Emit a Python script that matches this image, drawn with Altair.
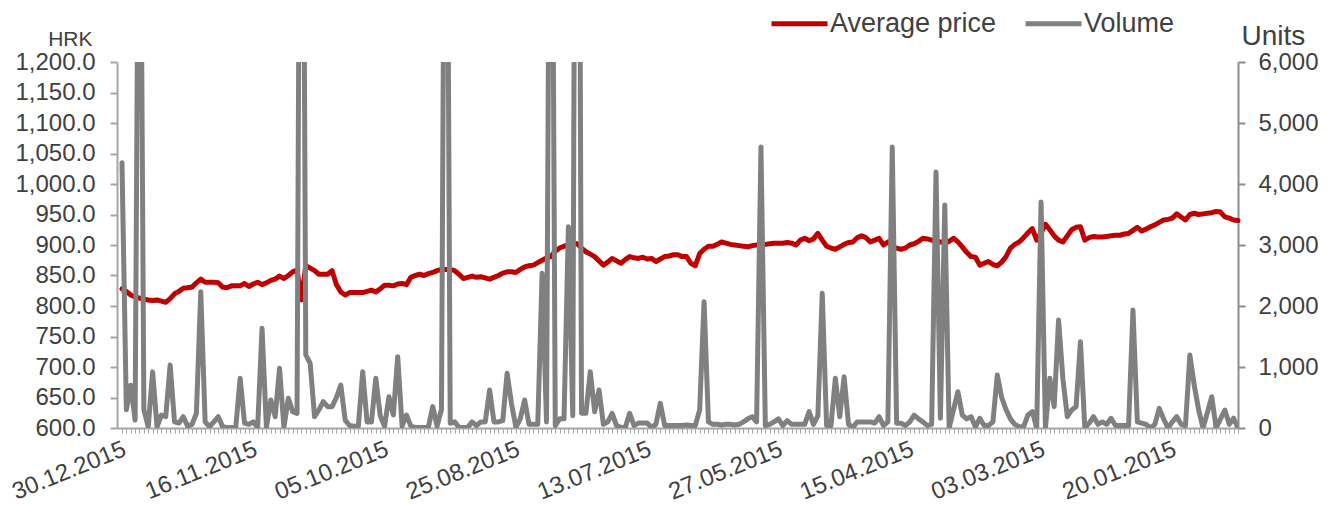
import altair as alt
import pandas as pd

tick_labels = ["30.12.2015", "16.11.2015", "05.10.2015", "25.08.2015", "13.07.2015",
               "27.05.2015", "15.04.2015", "03.03.2015", "20.01.2015"]

price = [
    828, 824, 818, 815, 813, 811, 810, 809, 810, 808,
    806, 812, 820, 824, 829, 830, 831, 838, 844, 839,
    839, 839, 838, 831, 830, 833, 833, 833, 837, 832,
    836, 839, 835, 838, 842, 844, 849, 845, 850, 856,
    859, 810, 866, 862, 858, 852, 852, 852, 858, 835,
    823, 818, 822, 822, 822, 822, 824, 826, 823, 828,
    834, 834, 833, 836, 837, 835, 847, 850, 852, 850,
    853, 855, 858, 860, 860, 860, 858, 852, 845, 847,
    849, 847, 848, 846, 844, 847, 850, 854, 856, 856,
    855, 860, 864, 866, 867, 871, 875, 879, 881, 890,
    895, 898, 900, 903, 902, 895, 889, 885, 881, 874,
    867, 872, 878, 874, 870, 876, 881, 879, 878, 880,
    877, 878, 873, 877, 881, 882, 884, 884, 881, 881,
    870, 866, 886, 893, 898, 898, 901, 905, 903, 901,
    900, 899, 898, 897, 899, 900, 901, 901, 902, 903,
    903, 903, 904, 903, 900, 908, 911, 907, 910, 919,
    908, 898, 895, 893, 897, 901, 904, 905, 912, 915,
    912, 905, 908, 911, 900, 905, 897, 895, 893, 895,
    900, 902, 906, 911, 910, 908, 906, 905, 903, 906,
    911, 905, 897, 888, 881, 880, 867, 870, 873, 868,
    866, 872, 881, 895, 901, 905, 912, 920, 927, 908,
    920, 934, 925, 915, 908, 905, 915, 925, 929, 930,
    908, 912, 914, 913, 913, 914, 915, 916, 916, 918,
    919, 924, 929, 923, 926, 930, 933, 937, 941, 942,
    944, 951, 946, 941, 950, 952, 950, 951, 952, 953,
    955, 954, 946, 944, 941, 940,
]

volume = [
    4350, 300, 700, 130, 12000, 300, 20, 920, 20, 213,
    185, 1033, 100, 80, 185, 30, 60, 240, 2235, 100,
    20, 100, 185, 20, 10, 10, 10, 815, 80, 60,
    100, 10, 1634, 10, 460, 185, 978, 10, 487, 268,
    240, 16000, 1200, 1060, 185, 300, 431, 350, 350, 500,
    705, 130, 40, 30, 30, 923, 100, 100, 815, 200,
    30, 513, 213, 1169, 30, 213, 30, 10, 10, 10,
    10, 350, 30, 300, 14000, 77, 100, 10, 10, 10,
    100, 40, 100, 100, 623, 100, 100, 120, 897, 400,
    10, 150, 459, 60, 60, 60, 2536, 100, 14000, 40,
    150, 150, 3300, 200, 20000, 240, 240, 923, 268, 623,
    60, 100, 240, 40, 10, 10, 240, 40, 80, 80,
    80, 10, 60, 404, 40, 40, 40, 40, 40, 50,
    40, 40, 300, 2071, 100, 60, 60, 50, 60, 60,
    50, 60, 100, 150, 185, 100, 4607, 40, 60, 100,
    150, 40, 120, 60, 60, 60, 60, 268, 60, 200,
    2208, 40, 40, 815, 185, 841, 60, 10, 100, 100,
    100, 100, 80, 185, 40, 100, 4607, 77, 77, 40,
    100, 213, 150, 100, 40, 60, 4197, 159, 3656, 0,
    300, 595, 213, 150, 185, 20, 159, 40, 40, 100,
    869, 500, 300, 150, 60, 20, 20, 213, 268, 0,
    3705, 0, 815, 350, 1770, 800, 185, 295, 350, 1415,
    0, 80, 185, 60, 100, 60, 159, 40, 40, 40,
    40, 1934, 100, 80, 60, 0, 60, 322, 150, 0,
    100, 185, 60, 40, 1197, 700, 300, 0, 250, 513,
    0, 150, 295, 60, 160, 0,
]

n = min(len(price), len(volume))
df = pd.DataFrame({"idx": list(range(n)), "price": price[:n], "volume": volume[:n]})

label_js = "[" + ",".join("'" + s + "'" for s in tick_labels) + "]"
label_expr = f"datum.value % 30 == 0 ? {label_js}[datum.value / 30] : ''"

FONT = "Liberation Sans"
TXT = "#404040"

x_enc = alt.X(
    "idx:Q",
    scale=alt.Scale(domain=[-1.14, n - 1], nice=False, zero=False),
    axis=alt.Axis(
        values=list(range(n)), labelExpr=label_expr, labelOverlap=False,
        labelFlush=False, labelAngle=-22, labelAlign="right", labelBaseline="top",
        labelFontSize=24, labelColor=TXT, labelPadding=4, labelBound=False,
        labelOffset=-2,
        tickSize=5, tickColor="#A6A6A6", tickWidth=1,
        domainColor="#A6A6A6", domainWidth=2, grid=False, title=None,
    ),
)

color_scale = alt.Scale(domain=["Average price", "Volume"], range=["#C00000", "#808080"])
legend = alt.Legend(
    title=None, orient="none", direction="horizontal", legendX=652, legendY=-69,
    symbolType="stroke", symbolSize=3136, symbolStrokeWidth=5,
    labelFontSize=27, labelColor=TXT, labelFont=FONT, labelOffset=0,
    labelLimit=400, columnPadding=18,
)

base = alt.Chart(df)

price_line = base.transform_calculate(series="'Average price'").mark_line(
    strokeWidth=5, strokeJoin="round", strokeCap="round"
).encode(
    x=x_enc,
    y=alt.Y(
        "price:Q",
        scale=alt.Scale(domain=[600, 1200], nice=False, zero=False),
        axis=alt.Axis(
            orient="left", values=list(range(600, 1201, 50)), format=",.1f",
            labelFontSize=24, labelColor=TXT, labelPadding=15,
            tickSize=7, tickColor="#A6A6A6", tickWidth=2,
            domainColor="#A6A6A6", domainWidth=2, grid=False,
            title="HRK", titleAngle=0, titleAlign="right", titleBaseline="alphabetic",
            titleX=-25, titleY=-17, titleFontSize=21, titleFontWeight="normal",
            titleColor=TXT, titleFont=FONT,
        ),
    ),
    color=alt.Color("series:N", scale=color_scale, legend=legend),
)

volume_line = base.transform_calculate(series="'Volume'").mark_line(
    strokeWidth=5, strokeJoin="round", strokeCap="round", clip=True
).encode(
    x=x_enc,
    y=alt.Y(
        "volume:Q",
        scale=alt.Scale(domain=[0, 6000], nice=False),
        axis=alt.Axis(
            orient="right", values=list(range(0, 6001, 1000)), format=",d",
            labelFontSize=24, labelColor=TXT, labelPadding=13,
            tickSize=7, tickColor="#8C8C8C", tickWidth=2,
            domainColor="#8C8C8C", domainWidth=2, grid=False,
            title="Units", titleAngle=0, titleAlign="left", titleBaseline="alphabetic",
            titleX=3, titleY=-18, titleFontSize=28, titleFontWeight="normal",
            titleColor=TXT, titleFont=FONT,
        ),
    ),
    color=alt.Color("series:N", scale=color_scale, legend=legend),
)

chart = alt.layer(price_line, volume_line).resolve_scale(y="independent").properties(
    width=1121, height=366,
    padding={"left": 109, "top": 54, "right": 80, "bottom": 77},
    autosize=alt.AutoSizeParams(type="none"),
).configure(font=FONT).configure_view(stroke=None).configure_axis(
    labelFont=FONT, titleFont=FONT
)

chart.save("out.html", embed_options={"renderer": "svg", "actions": False})
